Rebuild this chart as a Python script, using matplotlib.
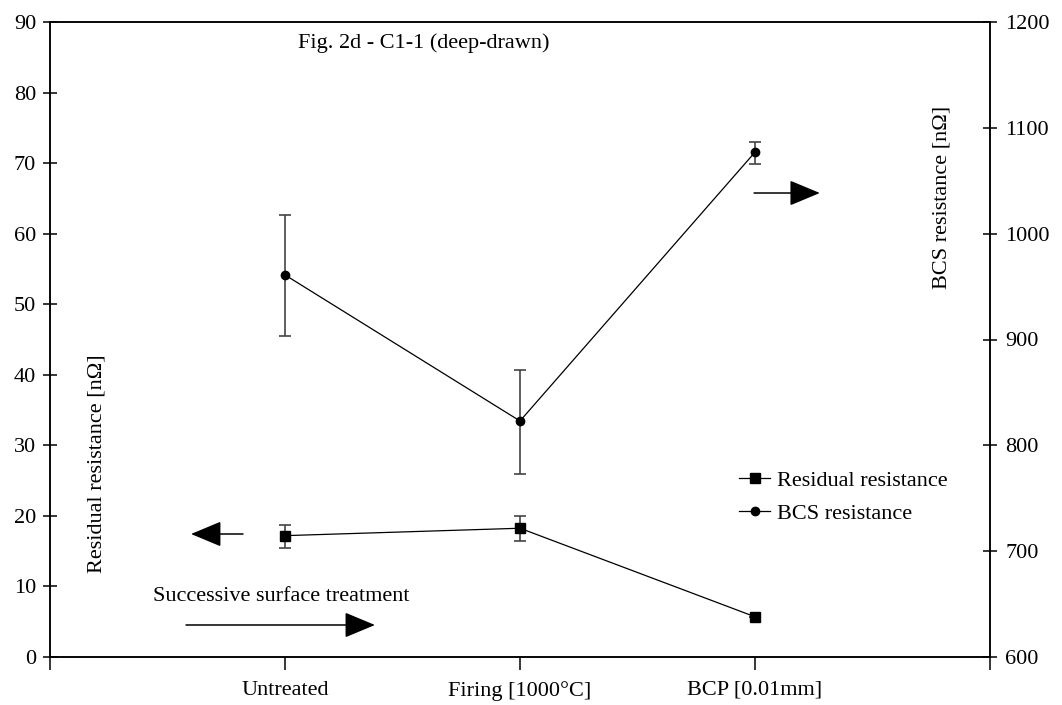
import numpy as np
import matplotlib
matplotlib.use("Agg")
import matplotlib.pyplot as plt
from matplotlib.lines import Line2D

plt.rcParams['font.family'] = ['Liberation Serif', 'DejaVu Serif']
plt.rcParams['font.size'] = 16

# data
categories = ["Untreated", "Firing [1000°C]", "BCP [0.01mm]"]
x_pos = [1, 2, 3]

residual = [17.2, 18.25, 5.7]
residual_lo = [15.4, 16.4, 5.7]
residual_hi = [18.7, 20.0, 5.7]

bcs = [961, 823, 1077]
bcs_lo = [903, 773, 1066]
bcs_hi = [1018, 871, 1087]

fig = plt.figure(figsize=(10.62, 7.05), dpi=100)
ax = fig.add_axes([50 / 1062, 48 / 705, 940 / 1062, 635 / 705])
ax2 = ax.twinx()

res_err = [np.array(residual) - np.array(residual_lo), np.array(residual_hi) - np.array(residual)]
bcs_err = [np.array(bcs) - np.array(bcs_lo), np.array(bcs_hi) - np.array(bcs)]

ax.errorbar(x_pos, residual, yerr=res_err, color='black', lw=0.9,
            marker='s', ms=6.5, ecolor='#444444', elinewidth=1.2,
            capsize=4.5, capthick=1.2)
ax2.errorbar(x_pos, bcs, yerr=bcs_err, color='black', lw=0.9,
             marker='o', ms=6, ecolor='#444444', elinewidth=1.2,
             capsize=4.5, capthick=1.2)

ax.set_xlim(0, 4)
ax.set_ylim(0, 90)
ax2.set_ylim(600, 1200)
ax.set_yticks(np.arange(0, 91, 10))
ax2.set_yticks(np.arange(600, 1201, 100))
ax.set_xticks([0, 1, 2, 3, 4])
ax.set_xticklabels([""] + categories + [""])

for a in (ax, ax2):
    for s in a.spines.values():
        s.set_linewidth(1.1)
ax.tick_params(axis='y', direction='inout', length=10, width=1.1, pad=5)
ax2.tick_params(axis='y', direction='inout', length=10, width=1.1, pad=6)
ax.tick_params(axis='x', direction='out', length=9, width=1.1, pad=8)

# axis labels placed like in the original
ax.text(0.05, 0.305, "Residual resistance [nΩ]", transform=ax.transAxes,
        rotation=90, ha='center', va='center')
ax.text(0.949, 0.724, "BCS resistance [nΩ]", transform=ax.transAxes,
        rotation=90, ha='center', va='center')
ax.text(0.264, 0.967, "Fig. 2d - C1-1 (deep-drawn)", transform=ax.transAxes,
        ha='left', va='center')
ax.text(0.1096, 0.0945, "Successive surface treatment", transform=ax.transAxes,
        ha='left', va='center')

arrow = dict(arrowstyle='-|>,head_length=1.2,head_width=0.5', color='black',
             lw=1.1, shrinkA=0, shrinkB=0)
ax.annotate("", xy=(0.150, 0.1937), xytext=(0.2053, 0.1937),
            xycoords='axes fraction', arrowprops=arrow)
ax.annotate("", xy=(0.3457, 0.0504), xytext=(0.1447, 0.0504),
            xycoords='axes fraction', arrowprops=arrow)
ax.annotate("", xy=(0.819, 0.7307), xytext=(0.749, 0.7307),
            xycoords='axes fraction', arrowprops=arrow)

handles = [Line2D([], [], color='black', lw=0.9, marker='s', ms=6.5),
           Line2D([], [], color='black', lw=0.9, marker='o', ms=6)]
ax2.legend(handles, ['Residual resistance', 'BCS resistance'],
           loc='upper left', bbox_to_anchor=(0.733, 0.294),
           frameon=False, handlelength=1.4, handletextpad=0.3,
           borderpad=0, borderaxespad=0, labelspacing=0.55)

fig.savefig("out.png", dpi=100)
